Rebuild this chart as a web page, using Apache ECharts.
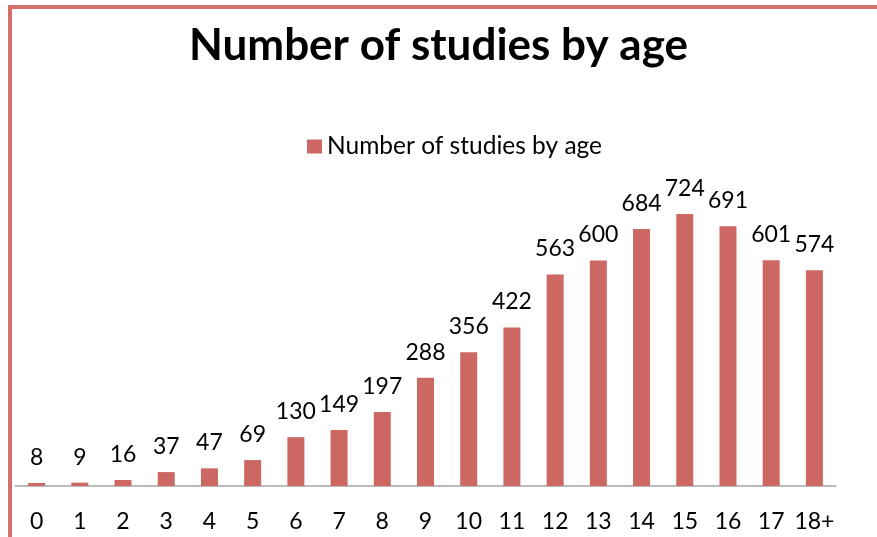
<!DOCTYPE html>
<html>
<head>
<meta charset="utf-8">
<script src="https://cdn.jsdelivr.net/npm/echarts@6/dist/echarts.min.js"></script>
<style>
  html, body { margin: 0; padding: 0; background: #fff; }
  #main { width: 877px; height: 537px; }
</style>
</head>
<body>
<div id="main"></div>
<script>
const ages = ['0', '1', '2', '3', '4', '5', '6', '7', '8', '9', '10', '11', '12', '13', '14', '15', '16', '17', '18+'];
const studies = [8, 9, 16, 37, 47, 69, 130, 149, 197, 288, 356, 422, 563, 600, 684, 724, 691, 601, 574];
const seriesName = 'Number of studies by age';

const font = 'Lato';
const barColor = '#CD6762';
const frameColor = '#D6706B';

let myChart = echarts.init(document.getElementById('main'));
myChart.setOption({
  animation: false,
  title: {
    text: 'Number of studies by age',
    left: 'center',
    top: 19,
    textStyle: { fontFamily: font, fontWeight: 'bold', fontSize: 44, color: '#000' }
  },
  legend: {
    top: 129,
    left: 302,
    itemWidth: 15,
    itemHeight: 14,
    itemGap: 7,
    icon: 'rect',
    textStyle: { fontFamily: font, fontSize: 24.5, color: '#000' },
    data: [seriesName]
  },
  // frame of the chart area (top and left edges)
  graphic: [
    { type: 'line', shape: { x1: 8, y1: 7, x2: 877, y2: 7 }, style: { stroke: frameColor, lineWidth: 4 } },
    { type: 'line', shape: { x1: 10, y1: 7, x2: 10, y2: 537 }, style: { stroke: frameColor, lineWidth: 4 } }
  ],
  grid: { left: 15, right: 41, top: 185.4, bottom: 51 },
  xAxis: {
    type: 'category',
    data: ages,
    axisLine: { lineStyle: { color: '#A6A6A6', width: 1.5 } },
    axisTick: { show: false },
    axisLabel: { fontFamily: font, fontSize: 23, color: '#000', margin: 24, interval: 0 }
  },
  yAxis: {
    type: 'value',
    min: 0,
    max: 800,
    show: false,
    splitLine: { show: false }
  },
  series: [{
    name: seriesName,
    type: 'bar',
    data: studies,
    barWidth: 17,
    itemStyle: { color: barColor },
    label: {
      show: true,
      position: 'top',
      distance: 14,
      fontFamily: font,
      fontSize: 23,
      color: '#000'
    }
  }]
});
</script>
</body>
</html>
